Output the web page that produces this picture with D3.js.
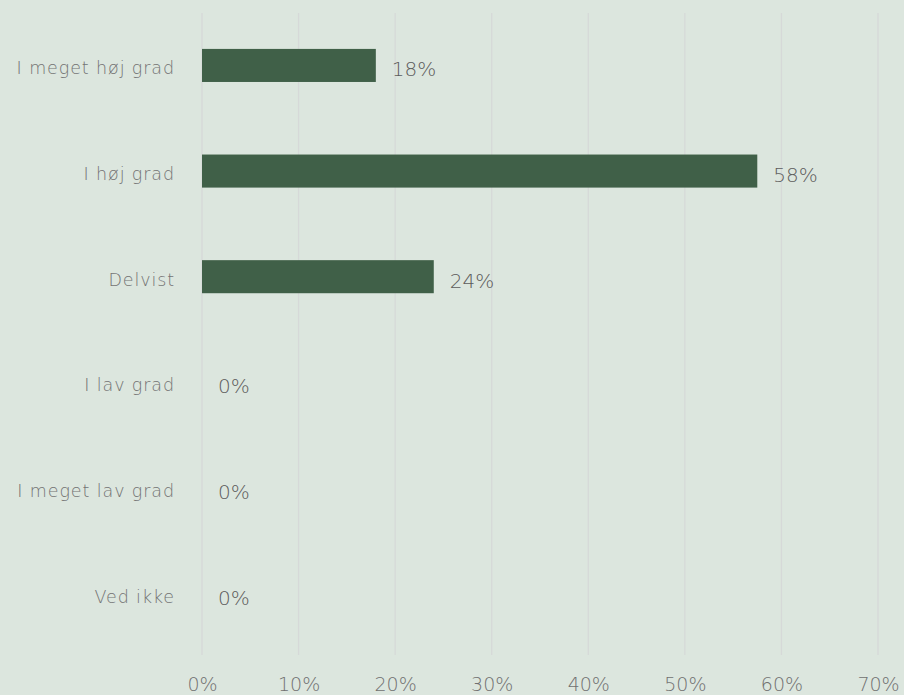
<!DOCTYPE html>
<html>
<head>
<meta charset="utf-8">
<script src="https://cdn.jsdelivr.net/npm/d3@7"></script>
<style>
  body { margin: 0; background: #dce6de; }
  svg { display: block; }
  text { font-family: "DejaVu Sans ExtraLight", "DejaVu Sans", sans-serif; font-weight: 200; }
</style>
</head>
<body>
<svg id="chart" width="904" height="695"></svg>
<script>
// data
var categories = ["I meget høj grad", "I høj grad", "Delvist", "I lav grad", "I meget lav grad", "Ved ikke"];
var values = [0.18, 0.575, 0.24, 0, 0, 0];
var valueLabels = ["18%", "58%", "24%", "0%", "0%", "0%"];
var ticks = [0, 0.1, 0.2, 0.3, 0.4, 0.5, 0.6, 0.7];

var W = 904, H = 695;
var FONT = "'DejaVu Sans ExtraLight', 'DejaVu Sans', sans-serif";
var svg = d3.select("#chart");

svg.append("rect").attr("width", W).attr("height", H).attr("fill", "#dce6de");

var x = d3.scaleLinear().domain([0, 0.7]).range([202, 878]);
var y = d3.scaleBand().domain(categories).range([13, 646]).paddingInner(0.687).paddingOuter(0.34);

// gridlines
svg.append("g").selectAll("line")
    .data(ticks)
    .enter().append("line")
    .attr("x1", function(d){ return x(d) })
    .attr("x2", function(d){ return x(d) })
    .attr("y1", 13)
    .attr("y2", 655)
    .attr("stroke", "#d6d9d8")
    .attr("stroke-width", 1.3);

// x axis labels
var xAxis = d3.axisBottom(x).tickValues(ticks).tickSize(0).tickPadding(0)
    .tickFormat(function(d){ return Math.round(d * 100) + "%" });
var gx = svg.append("g").attr("transform", "translate(0,672)").call(xAxis);
gx.select(".domain").remove();
gx.selectAll("text")
    .attr("dy", null)
    .attr("y", 19)
    .style("font-family", FONT)
    .style("font-weight", 200)
    .style("font-size", "19px")
    .attr("fill", "#707070");

// bars
var rows = categories.map(function(c, i){ return {cat: c, v: values[i], label: valueLabels[i]} });

svg.append("g").selectAll("rect")
    .data(rows)
    .enter().append("rect")
    .attr("x", x(0))
    .attr("y", function(d){ return y(d.cat) })
    .attr("width", function(d){ return x(d.v) - x(0) })
    .attr("height", y.bandwidth())
    .attr("fill", "#406048");

// value labels
svg.append("g").selectAll("text")
    .data(rows)
    .enter().append("text")
    .attr("x", function(d){ return x(d.v) + 16 })
    .attr("y", function(d){ return y(d.cat) + y.bandwidth() / 2 + 11 })
    .attr("font-size", "20px")
    .attr("fill", "#5c5c5c")
    .text(function(d){ return d.label });

// category labels
svg.append("g").selectAll("text")
    .data(categories)
    .enter().append("text")
    .attr("x", 175)
    .attr("y", function(d){ return y(d) + y.bandwidth() / 2 + 9 })
    .attr("text-anchor", "end")
    .attr("font-size", "17.5px")
    .attr("letter-spacing", "0.9px")
    .attr("fill", "#737373")
    .text(function(d){ return d });
</script>
</body>
</html>
